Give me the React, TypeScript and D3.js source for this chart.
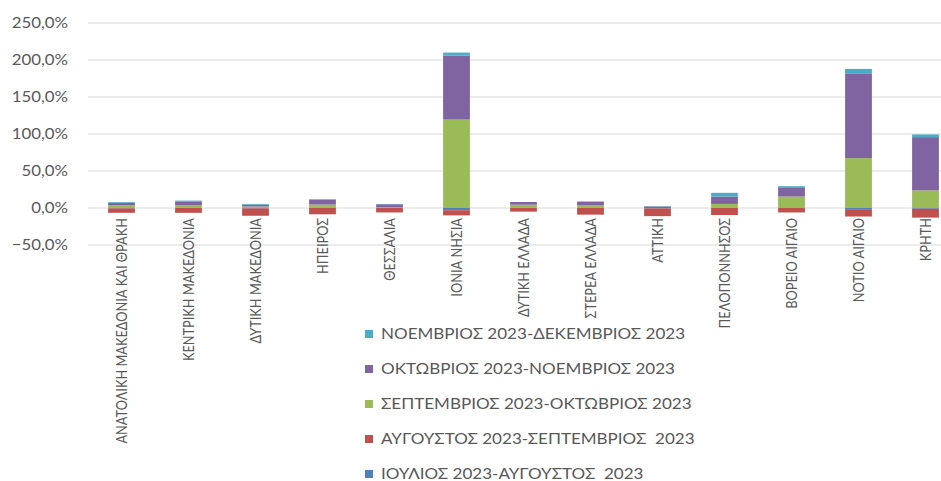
import React from "react";
import * as d3 from "d3";

const categories = [
  "ΑΝΑΤΟΛΙΚΗ ΜΑΚΕΔΟΝΙΑ ΚΑΙ ΘΡΑΚΗ",
  "ΚΕΝΤΡΙΚΗ ΜΑΚΕΔΟΝΙΑ",
  "ΔΥΤΙΚΗ ΜΑΚΕΔΟΝΙΑ",
  "ΗΠΕΙΡΟΣ",
  "ΘΕΣΣΑΛΙΑ",
  "ΙΟΝΙΑ ΝΗΣΙΑ",
  "ΔΥΤΙΚΗ ΕΛΛΑΔΑ",
  "ΣΤΕΡΕΑ ΕΛΛΑΔΑ",
  "ΑΤΤΙΚΗ",
  "ΠΕΛΟΠΟΝΝΗΣΟΣ",
  "ΒΟΡΕΙΟ ΑΙΓΑΙΟ",
  "ΝΟΤΙΟ ΑΙΓΑΙΟ",
  "ΚΡΗΤΗ",
];

const seriesNames = [
  "ΙΟΥΛΙΟΣ 2023-ΑΥΓΟΥΣΤΟΣ  2023",
  "ΑΥΓΟΥΣΤΟΣ 2023-ΣΕΠΤΕΜΒΡΙΟΣ  2023",
  "ΣΕΠΤΕΜΒΡΙΟΣ 2023-ΟΚΤΩΒΡΙΟΣ 2023",
  "ΟΚΤΩΒΡΙΟΣ 2023-ΝΟΕΜΒΡΙΟΣ 2023",
  "ΝΟΕΜΒΡΙΟΣ 2023-ΔΕΚΕΜΒΡΙΟΣ 2023",
];

const julAug = [-0.5, 0, -0.5, 0, 0, -3, 0, 0, -0.5, 0, 0, -2.5, -1];
const augSep = [-6, -6.5, -10, -8.5, -6, -7, -4.5, -9, -10.5, -9.5, -6, -9, -12];
const sepOct = [3.5, 3.5, 2, 4.7, 1, 119.5, 4.5, 3.5, 0, 5.5, 15.5, 67.4, 23.8];
const octNov = [3.5, 5.5, 2.5, 6.7, 4, 86.3, 3.6, 5, 2, 10, 12.5, 114.6, 72];
const novDec = [1, 1, 1, 0.5, 0.5, 4.2, -1, 0.5, 0.5, 5, 1.5, 6, 3.6];

const yTicks = [-50, 0, 50, 100, 150, 200, 250];

const colors = ["#4F81BD", "#C0504D", "#9BBB59", "#8064A2", "#4BACC6"];

const W = 941;
const H = 481;
const FONT = "Lato, 'Open Sans', sans-serif";
const TXT = "#595959";

export default function App() {
  const allSeries = [julAug, augSep, sepOct, octNov, novDec];
  const rows = categories.map((c, i) => {
    const r: any = { cat: c };
    seriesNames.forEach((s, k) => (r[s] = allSeries[k][i]));
    return r;
  });
  const stack = d3
    .stack<any>()
    .keys(seriesNames)
    .order(d3.stackOrderNone)
    .offset(d3.stackOffsetDiverging);
  const stacked = stack(rows);

  const x = d3
    .scaleBand<string>()
    .domain(categories)
    .range([88, 959])
    .paddingInner(0.6)
    .paddingOuter(0.3);
  const y = d3.scaleLinear().domain([-50, 250]).range([245, 23]);

  const fmt = (v: number) => d3.format(".1f")(v).replace(".", ",") + "%";

  const legendOrder = [4, 3, 2, 1, 0];

  return (
    <div style={{ position: "absolute", left: 0, top: 0 }}>
      <svg width={W} height={H} style={{ display: "block", background: "#fff" }}>
        {yTicks.map((t) => (
          <g key={t}>
            <line x1={88} x2={W} y1={y(t)} y2={y(t)} stroke="#d9d9d9" strokeWidth={1} />
            <text
              transform={`translate(68,${y(t)}) scale(1.16,1)`}
              dy="0.35em"
              textAnchor="end"
              fontFamily={FONT}
              fontSize={14.5}
              fill={TXT}
            >
              {fmt(t)}
            </text>
          </g>
        ))}
        {stacked.map((s, k) => (
          <g key={s.key} fill={colors[k]}>
            {s.map((d, i) => {
              const y0 = y(d[0]);
              const y1 = y(d[1]);
              const top = Math.min(y0, y1);
              const h = Math.abs(y0 - y1);
              if (h <= 0) return null;
              return (
                <rect
                  key={i}
                  x={x(categories[i])}
                  y={top}
                  width={x.bandwidth()}
                  height={h}
                />
              );
            })}
          </g>
        ))}
        {categories.map((c) => {
          const cx = (x(c) as number) + x.bandwidth() / 2;
          return (
            <text
              key={c}
              transform={`translate(${cx},218) rotate(-90) scale(1,1.22)`}
              textAnchor="end"
              dy="0.35em"
              fontFamily={FONT}
              fontSize={12.8}
              fill={TXT}
            >
              {c}
            </text>
          );
        })}
        {legendOrder.map((k, j) => {
          const cy = 334 + j * 35;
          return (
            <g key={k}>
              <rect x={365} y={cy - 4} width={8} height={8} fill={colors[k]} />
              <text
                transform={`translate(381,${cy}) scale(1.1,1)`}
                dy="0.35em"
                fontFamily={FONT}
                fontSize={15.5}
                fill={TXT}
                style={{ whiteSpace: "pre" }}
              >
                {seriesNames[k]}
              </text>
            </g>
          );
        })}
      </svg>
    </div>
  );
}
